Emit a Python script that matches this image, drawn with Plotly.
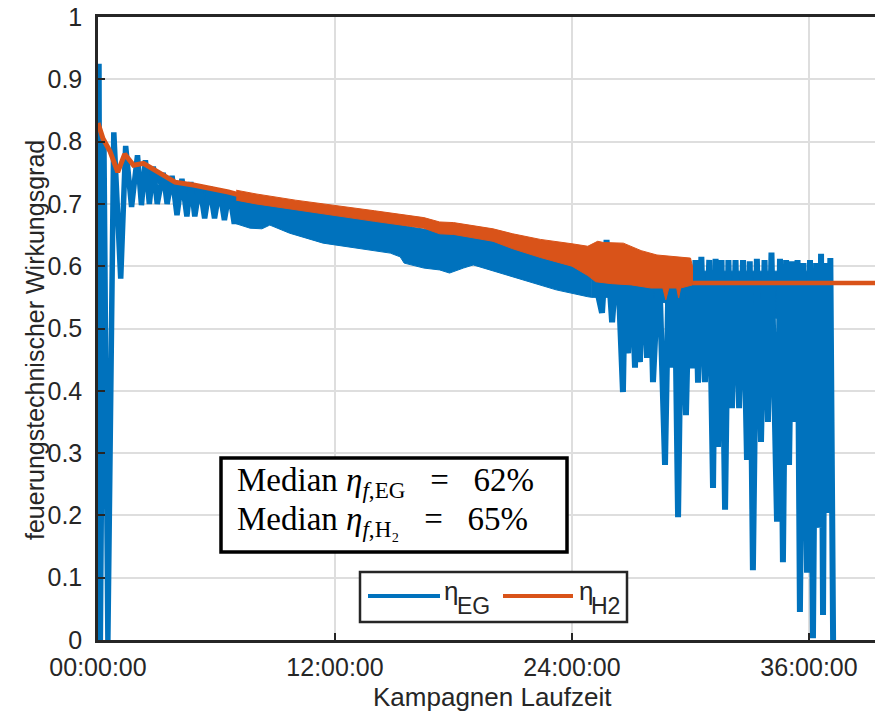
import plotly.graph_objects as go

# ---------------- data (hours of campaign runtime, efficiency) ----------------
# EG: early oscillating section
eg_early_h = [0.05, 0.12, 0.3, 0.5, 0.8, 1.15, 1.4, 1.7, 2.0, 2.2, 2.4, 2.6, 2.8, 3.0, 3.3, 3.5,
              3.75, 4.0, 4.25, 4.5, 4.7, 4.9, 5.15, 5.4, 5.65, 5.9, 6.15, 6.4, 6.65, 6.9, 7.1]
eg_early_v = [0.925, 0.0, 0.80, 0.0, 0.815, 0.58, 0.793, 0.695, 0.778, 0.698, 0.77, 0.70, 0.76, 0.70, 0.75, 0.70,
              0.745, 0.682, 0.74, 0.68, 0.735, 0.68, 0.73, 0.677, 0.728, 0.677, 0.724, 0.674, 0.72, 0.668, 0.716]

# EG: solid core of the early section (upper / lower envelope)
eg_ecore_up_h = [2.4, 4.0, 5.5, 7.0]
eg_ecore_up_v = [0.765, 0.735, 0.727, 0.716]
eg_ecore_lo_h = [2.4, 4.0, 5.5, 7.0]
eg_ecore_lo_v = [0.745, 0.715, 0.705, 0.69]

# EG: dense band (upper / lower envelope)
eg_up_h = [7.0, 8.0, 10.0, 12.0, 14.0, 16.0, 18.0, 20.0, 22.0, 24.0, 25.0]
eg_up_v = [0.716, 0.708, 0.694, 0.685, 0.675, 0.662, 0.652, 0.64, 0.628, 0.615, 0.61]
eg_lo_h = [7.0, 7.7, 8.3, 8.7, 9.7, 11.4, 12.8, 13.8, 14.8, 15.3, 15.5, 16.5, 17.3, 17.8, 18.5, 19.0,
           19.8, 21.5, 23.2, 24.8, 25.0]
eg_lo_v = [0.668, 0.661, 0.66, 0.666, 0.653, 0.637, 0.631, 0.626, 0.621, 0.615, 0.605, 0.597, 0.594, 0.589, 0.597, 0.602,
           0.594, 0.578, 0.562, 0.551, 0.55]

# EG: solid core of the sparse section (upper / lower envelope)
eg_core_up_h = [25.0, 30.1, 37.15]
eg_core_up_v = [0.60, 0.592, 0.592]
eg_core_lo_h = [25.0, 26.5, 28.0, 29.0, 30.1, 31.0, 33.0, 35.0, 36.5, 37.15]
eg_core_lo_v = [0.55, 0.55, 0.545, 0.54, 0.53, 0.525, 0.52, 0.515, 0.51, 0.51]

# EG: sparse section with deep drops (alternating peaks / troughs)
eg_sparse_h = [25.0, 25.52, 25.75, 26.03, 26.3, 26.58, 26.7, 26.84, 27.0, 27.19, 27.3, 27.44, 27.6, 27.80,
               27.95, 28.10, 28.4, 28.71, 28.9, 29.06, 29.2, 29.37, 29.55, 29.77, 29.95, 30.13, 30.25, 30.38,
               30.55, 30.73, 30.95, 31.14, 31.27, 31.39, 31.57, 31.75, 31.92, 32.10, 32.28, 32.46, 32.66, 32.86,
               33.0, 33.16, 33.36, 33.57, 33.75, 33.92, 34.1, 34.38, 34.53, 34.68, 34.84, 34.99, 35.14, 35.29,
               35.42, 35.54, 35.72, 35.90, 36.05, 36.20, 36.36, 36.51, 36.61, 36.71, 36.81, 36.91, 37.08, 37.22]
eg_sparse_v = [0.60, 0.525, 0.642, 0.51, 0.62, 0.398, 0.615, 0.46, 0.615, 0.437, 0.61, 0.446, 0.61, 0.453,
               0.61, 0.414, 0.61, 0.281, 0.605, 0.437, 0.605, 0.197, 0.605, 0.361, 0.60, 0.436, 0.61, 0.413,
               0.615, 0.414, 0.61, 0.244, 0.612, 0.31, 0.61, 0.209, 0.61, 0.372, 0.61, 0.372, 0.61, 0.289,
               0.608, 0.112, 0.612, 0.318, 0.61, 0.35, 0.622, 0.19, 0.612, 0.125, 0.61, 0.281, 0.608, 0.35,
               0.61, 0.045, 0.605, 0.108, 0.61, 0.003, 0.605, 0.18, 0.62, 0.04, 0.605, 0.204, 0.613, 0.0]

# H2: early line
h2_early_h = [0.0, 0.25, 0.6, 1.0, 1.35, 1.8, 2.3, 2.9, 3.9, 4.9, 5.8, 6.6, 7.2]
h2_early_v = [0.83, 0.805, 0.785, 0.751, 0.78, 0.762, 0.765, 0.754, 0.735, 0.73, 0.725, 0.719, 0.714]

# H2: band (upper / lower envelope)
h2_up_h = [7.0, 8.0, 10.0, 12.0, 14.0, 16.5, 17.3, 18.0, 19.0, 20.0, 21.0, 22.4, 24.0, 24.8, 25.3,
           25.6, 26.6, 27.5, 28.3, 29.2, 30.0, 30.1]
h2_up_v = [0.722, 0.716, 0.706, 0.697, 0.689, 0.678, 0.671, 0.67, 0.665, 0.66, 0.652, 0.643, 0.636, 0.632, 0.64,
           0.638, 0.637, 0.625, 0.618, 0.615, 0.613, 0.60]
h2_lo_h = [7.0, 8.0, 10.0, 12.0, 14.0, 16.5, 17.3, 18.0, 19.0, 20.0, 21.0, 22.4, 24.0, 24.8, 25.2, 26.0,
           27.0, 28.0, 28.6, 28.75, 28.9, 29.3, 29.4, 29.5, 30.1]
h2_lo_v = [0.706, 0.70, 0.69, 0.681, 0.672, 0.661, 0.652, 0.651, 0.645, 0.64, 0.628, 0.614, 0.60, 0.585, 0.575, 0.572,
           0.57, 0.565, 0.565, 0.546, 0.565, 0.565, 0.549, 0.565, 0.57]

# H2: constant tail
h2_tail_h = [30.1, 39.5]
h2_tail_v = [0.573, 0.573]

x_tick_vals = [0, 12, 24, 36]
x_tick_text = ["00:00:00", "12:00:00", "24:00:00", "36:00:00"]
y_tick_vals = [0, 0.1, 0.2, 0.3, 0.4, 0.5, 0.6, 0.7, 0.8, 0.9, 1.0]
y_tick_text = ["0", "0.1", "0.2", "0.3", "0.4", "0.5", "0.6", "0.7", "0.8", "0.9", "1"]

# ---------------- styling ----------------
BLUE = "#0072BD"
ORANGE = "#D95319"
AX = "#262626"
W, H = 875, 712
L, R, T, B = 98, 875, 17, 640
X_MAX = (R - L) / 19.75


def px(x):
    return (x - L) / (R - L)


def py(y):
    return (B - y) / (B - T)


fig = go.Figure()


def band(xu, yu, xl, yl, color):
    fig.add_trace(go.Scatter(x=xu + xl[::-1], y=yu + yl[::-1], fill="toself",
                             fillcolor=color, mode="lines", line=dict(color=color, width=1),
                             hoverinfo="skip", showlegend=False))


band(eg_up_h, eg_up_v, eg_lo_h, eg_lo_v, BLUE)
band(eg_ecore_up_h, eg_ecore_up_v, eg_ecore_lo_h, eg_ecore_lo_v, BLUE)
band(eg_core_up_h, eg_core_up_v, eg_core_lo_h, eg_core_lo_v, BLUE)
fig.add_trace(go.Scatter(x=eg_early_h, y=eg_early_v, mode="lines", line=dict(color=BLUE, width=5.5),
                         showlegend=False))
fig.add_trace(go.Scatter(x=eg_sparse_h, y=eg_sparse_v, mode="lines", line=dict(color=BLUE, width=6),
                         showlegend=False))
band(h2_up_h, h2_up_v, h2_lo_h, h2_lo_v, ORANGE)
fig.add_trace(go.Scatter(x=h2_early_h, y=h2_early_v, mode="lines", line=dict(color=ORANGE, width=5),
                         showlegend=False))
fig.add_trace(go.Scatter(x=h2_tail_h, y=h2_tail_v, mode="lines", line=dict(color=ORANGE, width=4.5),
                         showlegend=False))

FONT = "Liberation Sans, Arial, sans-serif"

fig.update_layout(
    width=W, height=H,
    margin=dict(l=L, r=W - R, t=T, b=H - B, pad=0),
    paper_bgcolor="white", plot_bgcolor="white",
    font=dict(family=FONT, size=25, color=AX),
    showlegend=False,
)
fig.update_xaxes(
    range=[0, X_MAX], tickvals=x_tick_vals, ticktext=x_tick_text,
    showgrid=True, gridcolor="#dedede", gridwidth=2,
    showline=True, linecolor=AX, linewidth=2.5, mirror=True,
    ticks="inside", ticklen=7, tickwidth=2, tickcolor=AX,
    zeroline=False, tickfont=dict(size=25, color=AX), ticklabelstandoff=3,
)
fig.update_yaxes(
    range=[0, 1], tickvals=y_tick_vals, ticktext=y_tick_text,
    showgrid=True, gridcolor="#dedede", gridwidth=2,
    showline=True, linecolor=AX, linewidth=2.5, mirror=False,
    ticks="inside", ticklen=7, tickwidth=2, tickcolor=AX,
    zeroline=False, tickfont=dict(size=25, color=AX), ticklabelstandoff=8,
)

shapes = []
annos = []
# axis titles
annos.append(dict(x=px(35), y=py(340), xref="paper", yref="paper", text="feuerungstechnischer Wirkungsgrad",
                  textangle=-90, showarrow=False, font=dict(size=25, color=AX, family=FONT),
                  xanchor="center", yanchor="middle"))
annos.append(dict(x=px(492), y=py(697), xref="paper", yref="paper", text="Kampagnen Laufzeit",
                  showarrow=False, font=dict(size=26, color=AX, family=FONT),
                  xanchor="center", yanchor="middle"))

# median text box
shapes.append(dict(type="rect", xref="paper", yref="paper", x0=px(221), x1=px(567), y0=py(552), y1=py(458),
                   line=dict(color="black", width=3.5), fillcolor="white", layer="above"))
SERIF = "Liberation Serif, Times New Roman, serif"
annos.append(dict(x=px(235), y=py(482), xref="paper", yref="paper",
                  text="Median <i>η</i><sub><i>f</i>,EG</sub>   =   62%",
                  showarrow=False, font=dict(size=33, color="black", family=SERIF),
                  xanchor="left", yanchor="middle"))
annos.append(dict(x=px(235), y=py(521), xref="paper", yref="paper",
                  text="Median <i>η</i><sub><i>f</i>,H₂</sub>   =   65%",
                  showarrow=False, font=dict(size=33, color="black", family=SERIF),
                  xanchor="left", yanchor="middle"))

# legend box
shapes.append(dict(type="rect", xref="paper", yref="paper", x0=px(360), x1=px(627), y0=py(622), y1=py(572),
                   line=dict(color=AX, width=2.5), fillcolor="white", layer="above"))
shapes.append(dict(type="line", xref="paper", yref="paper", x0=px(368), x1=px(440), y0=py(596), y1=py(596),
                   line=dict(color=BLUE, width=4), layer="above"))
shapes.append(dict(type="line", xref="paper", yref="paper", x0=px(503), x1=px(573), y0=py(596), y1=py(596),
                   line=dict(color=ORANGE, width=4), layer="above"))
for x_eta, x_sub, sub in [(442, 455, "EG"), (577, 589, "H2")]:
    annos.append(dict(x=px(x_eta), y=py(591), xref="paper", yref="paper", text="η",
                      showarrow=False, font=dict(size=26, color=AX, family=FONT),
                      xanchor="left", yanchor="middle"))
    annos.append(dict(x=px(x_sub), y=py(606), xref="paper", yref="paper", text=sub,
                      showarrow=False, font=dict(size=23, color=AX, family=FONT),
                      xanchor="left", yanchor="middle"))

fig.update_layout(shapes=shapes, annotations=annos)
fig.write_html("out.html")
